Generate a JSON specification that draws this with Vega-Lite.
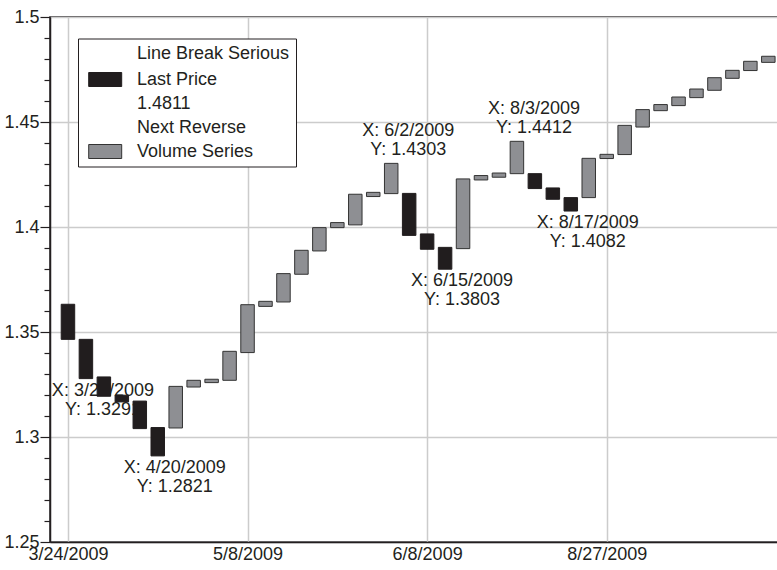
{
  "$schema": "https://vega.github.io/schema/vega-lite/v6.json",
  "width": 730,
  "height": 525,
  "autosize": "none",
  "padding": {"left": 50, "top": 17, "right": 0, "bottom": 28},
  "background": "white",
  "config": {
    "font": "Liberation Sans",
    "view": {"stroke": "#231f20", "strokeWidth": 1.5},
    "scale": {"continuousPadding": 0},
    "axis": {
      "labelFont": "Liberation Sans",
      "labelFontSize": 18,
      "labelColor": "#231f20",
      "domainColor": "#231f20",
      "domainWidth": 1.5,
      "tickColor": "#231f20",
      "tickWidth": 1.2,
      "gridColor": "#cccccc",
      "gridWidth": 1.5,
      "gridOpacity": 1,
      "title": null
    },
    "legend": {
      "labelFont": "Liberation Sans",
      "titleFont": "Liberation Sans"
    }
  },
  "datasets": {
    "bars": [
      {"i": 0, "lo": 1.3465, "hi": 1.3632, "series": "Last Price"},
      {"i": 1, "lo": 1.3278, "hi": 1.3465, "series": "Last Price"},
      {"i": 2, "lo": 1.3194, "hi": 1.3286, "series": "Last Price"},
      {"i": 3, "lo": 1.3167, "hi": 1.3199, "series": "Last Price"},
      {"i": 4, "lo": 1.3040, "hi": 1.3171, "series": "Last Price"},
      {"i": 5, "lo": 1.2910, "hi": 1.3045, "series": "Last Price"},
      {"i": 6, "lo": 1.3043, "hi": 1.3241, "series": "Volume Series"},
      {"i": 7, "lo": 1.3238, "hi": 1.3270, "series": "Volume Series"},
      {"i": 8, "lo": 1.3259, "hi": 1.3275, "series": "Volume Series"},
      {"i": 9, "lo": 1.3270, "hi": 1.3408, "series": "Volume Series"},
      {"i": 10, "lo": 1.3402, "hi": 1.3630, "series": "Volume Series"},
      {"i": 11, "lo": 1.3622, "hi": 1.3646, "series": "Volume Series"},
      {"i": 12, "lo": 1.3643, "hi": 1.3778, "series": "Volume Series"},
      {"i": 13, "lo": 1.3775, "hi": 1.3889, "series": "Volume Series"},
      {"i": 14, "lo": 1.3886, "hi": 1.3997, "series": "Volume Series"},
      {"i": 15, "lo": 1.3997, "hi": 1.4021, "series": "Volume Series"},
      {"i": 16, "lo": 1.4010, "hi": 1.4156, "series": "Volume Series"},
      {"i": 17, "lo": 1.4145, "hi": 1.4165, "series": "Volume Series"},
      {"i": 18, "lo": 1.4159, "hi": 1.4303, "series": "Volume Series"},
      {"i": 19, "lo": 1.3960, "hi": 1.4160, "series": "Last Price"},
      {"i": 20, "lo": 1.3894, "hi": 1.3967, "series": "Last Price"},
      {"i": 21, "lo": 1.3799, "hi": 1.3903, "series": "Last Price"},
      {"i": 22, "lo": 1.3897, "hi": 1.4229, "series": "Volume Series"},
      {"i": 23, "lo": 1.4224, "hi": 1.4245, "series": "Volume Series"},
      {"i": 24, "lo": 1.4237, "hi": 1.4257, "series": "Volume Series"},
      {"i": 25, "lo": 1.4254, "hi": 1.4408, "series": "Volume Series"},
      {"i": 26, "lo": 1.4183, "hi": 1.4254, "series": "Last Price"},
      {"i": 27, "lo": 1.4132, "hi": 1.4186, "series": "Last Price"},
      {"i": 28, "lo": 1.4076, "hi": 1.4140, "series": "Last Price"},
      {"i": 29, "lo": 1.4140, "hi": 1.4327, "series": "Volume Series"},
      {"i": 30, "lo": 1.4326, "hi": 1.4346, "series": "Volume Series"},
      {"i": 31, "lo": 1.4345, "hi": 1.4484, "series": "Volume Series"},
      {"i": 32, "lo": 1.4476, "hi": 1.4559, "series": "Volume Series"},
      {"i": 33, "lo": 1.4554, "hi": 1.4583, "series": "Volume Series"},
      {"i": 34, "lo": 1.4578, "hi": 1.4619, "series": "Volume Series"},
      {"i": 35, "lo": 1.4616, "hi": 1.4657, "series": "Volume Series"},
      {"i": 36, "lo": 1.4651, "hi": 1.4711, "series": "Volume Series"},
      {"i": 37, "lo": 1.4708, "hi": 1.4746, "series": "Volume Series"},
      {"i": 38, "lo": 1.4745, "hi": 1.4789, "series": "Volume Series"},
      {"i": 39, "lo": 1.4784, "hi": 1.4813, "series": "Volume Series"}
    ],
    "notesBelow": [
      {"i": 1, "v": 1.3278, "label": "X: 3/27/2009\nY: 1.3291"},
      {"i": 5, "v": 1.2910, "label": "X: 4/20/2009\nY: 1.2821"},
      {"i": 21, "v": 1.3799, "label": "X: 6/15/2009\nY: 1.3803"},
      {"i": 28, "v": 1.4076, "label": "X: 8/17/2009\nY: 1.4082"}
    ],
    "notesAbove": [
      {"i": 18, "v": 1.4303, "label": "X: 6/2/2009\nY: 1.4303"},
      {"i": 25, "v": 1.4408, "label": "X: 8/3/2009\nY: 1.4412"}
    ]
  },
  "resolve": {"axis": {"y": "independent"}},
  "layer": [
    {
      "data": {"name": "notesBelow"},
      "mark": {"type": "text", "align": "center", "baseline": "top", "dx": 17, "dy": 3, "fontSize": 18, "lineHeight": 19, "color": "#231f20", "lineBreak": "\n"},
      "encoding": {
        "x": {
          "field": "i", "type": "quantitative",
          "scale": {"domain": [-1, 39.65], "nice": false, "zero": false, "padding": 0},
          "axis": {
            "values": [0, 10, 20, 30],
            "labelExpr": "datum.value == 0 ? '3/24/2009' : datum.value == 10 ? '5/8/2009' : datum.value == 20 ? '6/8/2009' : '8/27/2009'",
            "ticks": false, "labelPadding": 3, "grid": true, "labelFlush": false, "labelOverlap": false
          }
        },
        "y": {
          "field": "v", "type": "quantitative",
          "scale": {"domain": [1.25, 1.5], "nice": false, "zero": false},
          "axis": {
            "orient": "left",
            "values": [1.26, 1.27, 1.28, 1.29, 1.31, 1.32, 1.33, 1.34, 1.36, 1.37, 1.38, 1.39, 1.41, 1.42, 1.43, 1.44, 1.46, 1.47, 1.48, 1.49],
            "labels": false, "grid": false, "domain": false, "tickSize": 6, "title": null
          }
        },
        "text": {"field": "label", "type": "nominal"}
      }
    },
    {
      "data": {"name": "notesAbove"},
      "mark": {"type": "text", "align": "center", "baseline": "bottom", "dx": 17, "dy": -23, "fontSize": 18, "lineHeight": 19, "color": "#231f20", "lineBreak": "\n"},
      "encoding": {
        "x": {
          "field": "i", "type": "quantitative",
          "axis": {
            "values": [0, 10, 20, 30],
            "labelExpr": "datum.value == 0 ? '3/24/2009' : datum.value == 10 ? '5/8/2009' : datum.value == 20 ? '6/8/2009' : '8/27/2009'",
            "ticks": false, "labelPadding": 3, "grid": true, "labelFlush": false, "labelOverlap": false
          }
        },
        "y": {"field": "v", "type": "quantitative", "axis": null},
        "text": {"field": "label", "type": "nominal"}
      }
    },
    {
      "data": {"name": "bars"},
      "mark": {"type": "bar", "width": 13.5, "strokeWidth": 1},
      "encoding": {
        "x": {
          "field": "i", "type": "quantitative",
          "axis": {
            "values": [0, 10, 20, 30],
            "labelExpr": "datum.value == 0 ? '3/24/2009' : datum.value == 10 ? '5/8/2009' : datum.value == 20 ? '6/8/2009' : '8/27/2009'",
            "ticks": false, "labelPadding": 3, "grid": true, "labelFlush": false, "labelOverlap": false
          }
        },
        "y": {
          "field": "lo", "type": "quantitative",
          "axis": {
            "orient": "left",
            "values": [1.25, 1.3, 1.35, 1.4, 1.45, 1.5],
            "format": "~g", "tickSize": 10, "labelPadding": 1, "grid": true, "labelFlush": false
          }
        },
        "y2": {"field": "hi"},
        "fill": {
          "field": "series", "type": "nominal",
          "scale": {"domain": ["Last Price", "1.4811", "Next Reverse", "Volume Series"], "range": ["#211d1e", "transparent", "transparent", "#8e8f93"]},
          "legend": {
            "title": "Line Break Serious", "orient": "none", "legendX": 28, "legendY": 21.5,
            "fillColor": "white", "strokeColor": "#231f20", "padding": 6,
            "titleFontSize": 18, "titleFontWeight": "normal", "titleColor": "#231f20", "titleAnchor": "end", "titlePadding": 8,
            "labelFontSize": 18, "labelColor": "#231f20", "labelOffset": 22.7, "symbolOffset": 12.2,
            "symbolType": "M-2.357,-1H2.357V1H-2.357Z M26.03,0", "symbolSize": 196, "symbolStrokeWidth": 1, "rowPadding": 6
          }
        },
        "stroke": {
          "field": "series", "type": "nominal",
          "scale": {"domain": ["Last Price", "1.4811", "Next Reverse", "Volume Series"], "range": ["#211d1e", "transparent", "transparent", "#333333"]},
          "legend": {
            "title": "Line Break Serious", "orient": "none", "legendX": 28, "legendY": 21.5,
            "fillColor": "white", "strokeColor": "#231f20", "padding": 6,
            "titleFontSize": 18, "titleFontWeight": "normal", "titleColor": "#231f20", "titleAnchor": "end", "titlePadding": 8,
            "labelFontSize": 18, "labelColor": "#231f20", "labelOffset": 22.7, "symbolOffset": 12.2,
            "symbolType": "M-2.357,-1H2.357V1H-2.357Z M26.03,0", "symbolSize": 196, "symbolStrokeWidth": 1, "rowPadding": 6
          }
        }
      }
    }
  ]
}
